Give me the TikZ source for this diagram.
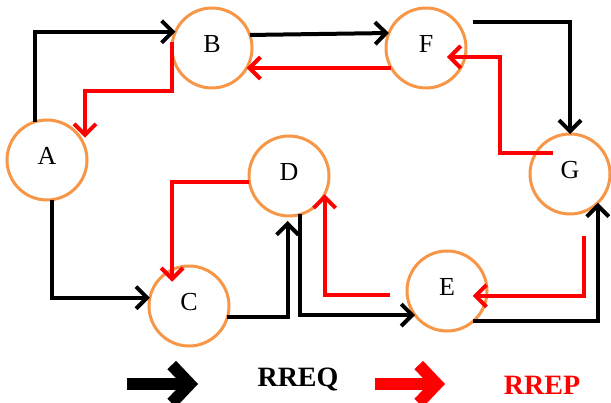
\documentclass[tikz,border=0pt]{standalone}
\usepackage{fontspec}
\setmainfont{Liberation Serif}
\usetikzlibrary{arrows.meta,calc}
\definecolor{nodeorange}{HTML}{F79646}
\definecolor{rrepred}{HTML}{FF0000}
\tikzset{
  netnode/.style={circle,draw=nodeorange,line width=3pt,minimum size=80pt,inner sep=0pt,outer sep=0pt,fill=white,text depth=8pt,font=\fontsize{26}{26}\selectfont},
  reqline/.style={draw=black,line width=4pt,-{Straight Barb[length=11pt,width=22pt]}},
  repline/.style={draw=rrepred,line width=4pt,-{Straight Barb[length=11pt,width=22pt]}},
  legarrow/.style={line width=12pt,-{Straight Barb[length=18pt,width=38pt]}},
  legtext/.style={font=\bfseries\fontsize{28}{28}\selectfont}
}
\begin{document}
\begin{tikzpicture}[x=1pt,y=-1pt]
\useasboundingbox (0,0) rectangle (611,403);
% nodes
\node[netnode] (A) at (47,160) {A};
\node[netnode] (B) at (212,48) {B};
\node[netnode] (F) at (426,48) {F};
\node[netnode] (G) at (570,174) {G};
\node[netnode] (D) at (289,176) {D};
\node[netnode] (C) at (189,306) {C};
\node[netnode] (E) at (447,291) {E};
% RREQ (black)
\draw[reqline] (A.108) |- (B.156);
\draw[reqline] (B.19) -- (F.158);
\draw[reqline] ([xshift=16pt]F.40) -| (G.north);
\draw[reqline] (A.-83) |- (C.168);
\draw[reqline] (C.-16) -| ([yshift=-5pt]D.-92);
\draw[reqline] (D.-74) |- (E.-143);
\draw[reqline] (E.-49) -| (G.-46);
% RREP (red)
\draw[repline] (B.172) -- ++(0,49) -| ([yshift=10pt]A.18);
\draw[repline] (F.210) -- (B.-30);
\draw[repline] ([xshift=17pt]G.148) -- ++(-53,0) |- ([xshift=-18pt]F.-13);
\draw[repline] (D.-171) -| ([yshift=-12pt]C.115);
\draw[repline] ([xshift=-17pt]E.186) -| (D.-27);
\draw[repline] ([yshift=-24pt]G.-70) |- ([xshift=-14pt]E.-7);
% legend
\coordinate (lq0) at (127,384);
\coordinate (lq1) at (198,384);
\coordinate (lp0) at (375,384);
\coordinate (lp1) at (445,384);
\draw[legarrow,black] (lq0) -- (lq1);
\draw[legarrow,rrepred] (lp0) -- (lp1);
\node[legtext,text=black] (rreq) at (298,380) {RREQ};
\node[legtext,text=rrepred] (rrep) at (542,385) {RREP};
\end{tikzpicture}
\end{document}
